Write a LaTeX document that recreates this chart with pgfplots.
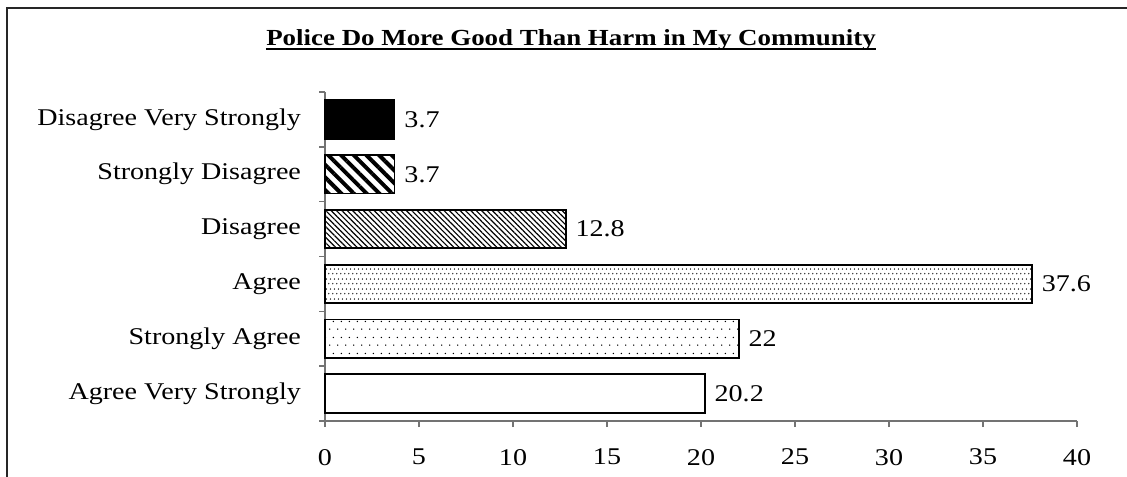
\documentclass[border=0pt]{standalone}
\usepackage{fontspec}
\setmainfont{Liberation Serif}[FakeStretch=1.17]
\usepackage{pgfplots}
\pgfplotsset{compat=1.18}
\usetikzlibrary{patterns.meta}

% staggered dot fills
\pgfdeclarepatternformonly{sparsedots}{\pgfpointorigin}{\pgfpoint{4pt}{8pt}}{\pgfpoint{4pt}{8pt}}{%
  \pgfpathcircle{\pgfpoint{1pt}{2pt}}{0.4pt}%
  \pgfpathcircle{\pgfpoint{3pt}{6pt}}{0.4pt}%
  \pgfusepath{fill}}
\pgfdeclarepatternformonly{densedots}{\pgfpointorigin}{\pgfpoint{2pt}{5pt}}{\pgfpoint{2pt}{5pt}}{%
  \pgfpathcircle{\pgfpoint{0.5pt}{1.25pt}}{0.4pt}%
  \pgfpathcircle{\pgfpoint{1.5pt}{3.75pt}}{0.4pt}%
  \pgfusepath{fill}}

\begin{document}
\begin{tikzpicture}
\useasboundingbox (0,0) rectangle (563.5pt,238pt);
\clip (0,0) rectangle (563.5pt,238pt);
% outer frame
\draw[line width=1pt, black!85] (3.5pt,-20pt) -- (3.5pt,234pt) -- (600pt,234pt);
% title
\node[inner sep=0pt, anchor=base, font=\fontsize{11.5}{13}\selectfont\bfseries] (t) at (285.5pt,215pt)
  {Police Do More Good Than Harm in My Community};
\draw[line width=1pt] ([yshift=-1.4pt]t.base west) -- ([yshift=-1.4pt]t.base east);

\begin{axis}[
  at={(162.5pt,27.5pt)}, anchor=south west,
  scale only axis, width=376pt, height=164.5pt,
  xmin=0, xmax=40, ymin=-0.5, ymax=5.5,
  xtick={0,5,...,40},
  ytick={0,...,5},
  yticklabels={Agree Very Strongly, Strongly Agree, Agree, Disagree, Strongly Disagree, Disagree Very Strongly},
  minor ytick={-0.5,0.5,...,5.5},
  axis x line*=bottom, axis y line*=left,
  axis line style={black!55, line width=0.8pt},
  every major y tick/.style={draw=none},
  every major x tick/.style={draw=black!55, line width=0.7pt},
  every minor y tick/.style={draw=black!55, line width=0.7pt},
  major tick length=3pt, minor tick length=3pt,
  tick align=outside,
  tick label style={font=\fontsize{12}{14}\selectfont, black},
  xticklabel style={yshift=-7.5pt},
  yticklabel style={xshift=-5.5pt},
  /pgf/number format/assume math mode=true,
  xbar, bar width=0.7, bar shift=0pt,
  nodes near coords,
  every node near coord/.append style={font=\fontsize{12}{14}\selectfont, text=black, inner sep=0pt, anchor=west, xshift=4.5pt},
  clip=false,
]
\addplot[draw=black, line width=0.9pt, fill=white] coordinates {(20.2,0)};
\addplot[draw=black, line width=0.9pt, pattern=sparsedots, pattern color=black] coordinates {(22,1)};
\addplot[draw=black, line width=0.9pt, pattern=densedots, pattern color=black] coordinates {(37.6,2)};
\addplot[draw=black, line width=0.9pt, pattern={Lines[angle=-45,distance=1.9pt,line width=0.6pt]}, pattern color=black] coordinates {(12.8,3)};
\addplot[draw=black, line width=0.9pt, pattern={Lines[angle=-45,distance=4.5pt,line width=2pt]}, pattern color=black] coordinates {(3.7,4)};
\addplot[draw=black, line width=0.9pt, fill=black] coordinates {(3.7,5)};
\end{axis}
\end{tikzpicture}
\end{document}
